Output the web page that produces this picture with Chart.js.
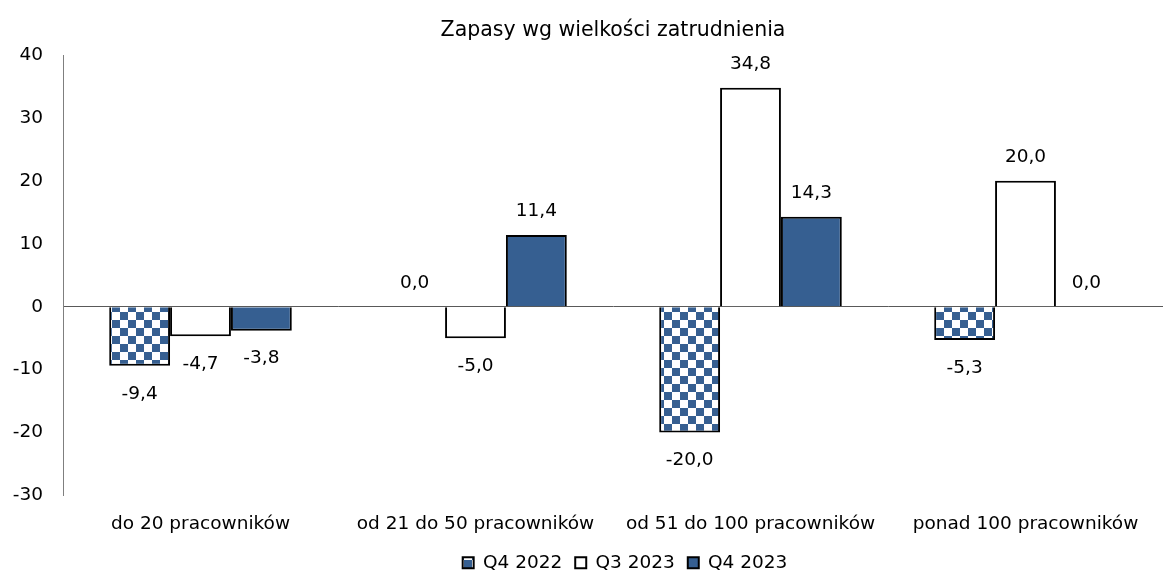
<!DOCTYPE html>
<html>
<head>
<meta charset="utf-8">
<script src="https://cdn.jsdelivr.net/npm/chart.js@4"></script>
<style>
  html, body { margin: 0; padding: 0; background: #fff; }
  #wrap { width: 1163px; height: 578px; }
</style>
</head>
<body>
<div id="wrap"><canvas id="myChart"></canvas></div>
<script>
var categories = ["do 20 pracowników", "od 21 do 50 pracowników", "od 51 do 100 pracowników", "ponad 100 pracowników"];
var seriesNames = ["Q4 2022", "Q3 2023", "Q4 2023"];
var q4_2022 = [-9.4, 0.0, -20.0, -5.3];
var q3_2023 = [-4.7, -5.0, 34.8, 20.0];
var q4_2023 = [-3.8, 11.4, 14.3, 0.0];
var yTicks = [-30, -20, -10, 0, 10, 20, 30, 40];

var blue = "#365f91";
var fontFamily = "'DejaVu Sans', Verdana, sans-serif";
var fontSize = 18.5;

// checkerboard fill for Q4 2022
function checker() {
    var c = document.createElement("canvas");
    c.width = 16;
    c.height = 16;
    var g = c.getContext("2d");
    g.fillStyle = "#ffffff";
    g.fillRect(0, 0, 16, 16);
    g.fillStyle = blue;
    g.fillRect(0, 0, 8, 8);
    g.fillRect(8, 8, 8, 8);
    return g.createPattern(c, "repeat");
}

// value labels above / below the bars
var valueLabels = {
    id: "valueLabels",
    afterLayout: function (chart) {
        // nudge legend a little to the right, as in the original
        chart.legend.left += 12;
        chart.legend.right += 12;
    },
    afterDatasetsDraw: function (chart) {
        var ctx = chart.ctx;
        ctx.save();
        ctx.font = fontSize + "px " + fontFamily;
        ctx.fillStyle = "#000";
        ctx.textAlign = "center";
        ctx.textBaseline = "middle";
        chart.data.datasets.forEach(function (ds, i) {
            chart.getDatasetMeta(i).data.forEach(function (bar, j) {
                var v = ds.data[j];
                var txt = v.toFixed(1).replace(".", ",");
                var y = v >= 0 ? bar.y - 24 : bar.y + 28;
                ctx.fillText(txt, bar.x, y);
            });
        });
        ctx.restore();
    }
};

Chart.defaults.font.family = fontFamily;
Chart.defaults.font.size = fontSize;
Chart.defaults.color = "#000";

new Chart("myChart", {
    type: "bar",
    data: {
        labels: categories,
        datasets: [
            { label: seriesNames[0], data: q4_2022, backgroundColor: checker(), borderColor: "#000", borderWidth: 2 },
            { label: seriesNames[1], data: q3_2023, backgroundColor: "#ffffff", borderColor: "#000", borderWidth: 2 },
            { label: seriesNames[2], data: q4_2023, backgroundColor: blue, borderColor: "#000", borderWidth: 2 }
        ]
    },
    options: {
        responsive: true,
        maintainAspectRatio: false,
        animation: false,
        layout: {
            padding: { top: 0, left: 0, right: -19, bottom: -4 }
        },
        datasets: {
            bar: { barPercentage: 1, categoryPercentage: 0.664 }
        },
        plugins: {
            title: {
                display: true,
                text: "Zapasy wg wielkości zatrudnienia",
                fullSize: false,
                font: { size: 20.5, weight: "normal", lineHeight: 1.2 },
                padding: { top: 18, bottom: 12.4 }
            },
            legend: {
                position: "bottom",
                fullSize: false,
                labels: { boxWidth: 11, boxHeight: 11, padding: 13 }
            },
            tooltip: { enabled: false }
        },
        scales: {
            x: {
                grid: { display: false, drawTicks: false },
                border: { display: false },
                ticks: { padding: 18, maxRotation: 0 },
                afterFit: function (scale) { scale.height = 45; }
            },
            y: {
                min: -30,
                max: 40,
                afterBuildTicks: function (scale) {
                    scale.ticks = yTicks.map(function (v) { return { value: v }; });
                },
                grid: {
                    drawTicks: false,
                    color: function (c) { return c.tick && c.tick.value === 0 ? "#595959" : "rgba(0,0,0,0)"; },
                    lineWidth: 1
                },
                border: { display: true, color: "#7f7f7f", width: 1 },
                ticks: { padding: 20 },
                afterFit: function (scale) { scale.width = 63; }
            }
        }
    },
    plugins: [valueLabels]
});
</script>
</body>
</html>
